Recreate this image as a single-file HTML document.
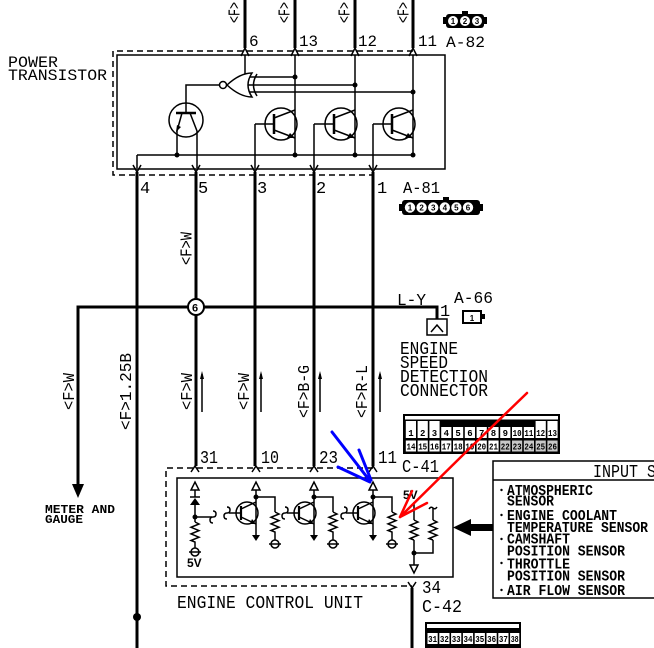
<!DOCTYPE html>
<html><head><meta charset="utf-8"><style>
html,body{margin:0;padding:0;background:#fff;}
svg{display:block;}
text{font-family:"Liberation Mono",monospace;fill:#000;}
.b{font-weight:bold;}
.s{font-family:"Liberation Sans",sans-serif;font-weight:bold;}
.cn{font-family:"Liberation Sans",sans-serif;font-weight:bold;font-size:8px;text-anchor:middle;}
</style></head><body>
<svg width="654" height="648" viewBox="0 0 654 648" xmlns="http://www.w3.org/2000/svg">
<rect width="654" height="648" fill="#fff"/>

<!-- ===== THICK WIRES ===== -->
<g fill="none" stroke="#000" stroke-width="3">
 <path d="M245,0V48 M295,0V48 M355,0V48 M413,0V48"/>
 <path d="M137,172V648 M196,172V466 M255,172V466 M314,172V466 M373,172V466"/>
 <path d="M78,486V307H437V326"/>
 <path d="M412,588V648"/>
</g>
<circle cx="137" cy="617" r="4" fill="#000"/>
<polygon points="72,484 84,484 78,498" fill="#000"/>
<circle cx="196" cy="307" r="8" fill="#fff" stroke="#000" stroke-width="2"/>
<text x="192" y="311.5" font-size="11" class="s" style="font-size:11px">6</text>

<!-- ===== POWER TRANSISTOR ===== -->
<g fill="none" stroke="#000" stroke-width="1.5">
 <path d="M413,51H113V175H374" stroke-dasharray="6,4"/>
 <rect x="117" y="55" width="328" height="114"/>
 <path d="M241,56L245,48L249,56 M291,56L295,48L299,56 M351,56L355,48L359,56 M409,56L413,48L417,56"/>
 <path d="M133,165L137,172L141,165 M192,165L196,172L200,165 M251,165L255,172L259,165 M310,165L314,172L318,165 M369,165L373,172L377,165"/>
 <path d="M245,55V75"/>
 <path d="M295,55V155 M355,55V155 M413,55V155"/>
 <path d="M250,77H295 M247,85H355 M250,92H413"/>
 <path d="M219.5,85H186V113"/>
 <path d="M137,155H413 M137,155V168"/>
 <circle cx="186" cy="120" r="17"/>
 <path d="M182,113L177,131V155 M190,113L197,131V168"/>
 <circle cx="281" cy="124" r="16"/>
 <circle cx="341" cy="124" r="16"/>
 <circle cx="399" cy="124" r="16"/>
 <path d="M255,124H274 M255,124V168 M314,124H334 M314,124V168 M373,124H392 M373,124V168"/>
 <path d="M274,118L295,110 M274,130L295,138 M334,118L355,110 M334,130L355,138 M392,118L413,110 M392,130L413,138"/>
 <path d="M252,73Q244,85 252,97Q240,97 227,85Q240,73 252,73Z" fill="#fff"/>
 <path d="M257,74Q250,85 257,96"/>
 <circle cx="223" cy="85" r="3.5" fill="#fff"/>
</g>
<g stroke="#000" stroke-width="2.5">
 <path d="M176,113H196 M274,114V134 M334,114V134 M392,114V134"/>
</g>
<g fill="#000">
 <polygon points="176,132 177,125 181,127"/>
 <polygon points="295,138 287,138 290,133"/>
 <polygon points="355,138 347,138 350,133"/>
 <polygon points="413,138 405,138 408,133"/>
 <circle cx="295" cy="77" r="2.5"/><circle cx="355" cy="85" r="2.5"/><circle cx="413" cy="92" r="2.5"/>
 <circle cx="177" cy="155" r="2.5"/><circle cx="295" cy="155" r="2.5"/><circle cx="355" cy="155" r="2.5"/><circle cx="413" cy="155" r="2.5"/>
</g>
<text x="8" y="67" font-size="16" textLength="50" lengthAdjust="spacingAndGlyphs">POWER</text>
<text x="8" y="80" font-size="16" textLength="99" lengthAdjust="spacingAndGlyphs">TRANSISTOR</text>
<text x="249" y="46" font-size="16">6</text>
<text x="299" y="46" font-size="16" textLength="19" lengthAdjust="spacingAndGlyphs">13</text>
<text x="358" y="46" font-size="16" textLength="19" lengthAdjust="spacingAndGlyphs">12</text>
<text x="418" y="46" font-size="16" textLength="19" lengthAdjust="spacingAndGlyphs">11</text>
<text x="446" y="47" font-size="16" textLength="39" lengthAdjust="spacingAndGlyphs">A-82</text>
<text x="140" y="193" font-size="17">4</text>
<text x="198" y="193" font-size="17">5</text>
<text x="257" y="193" font-size="17">3</text>
<text x="316" y="193" font-size="17">2</text>
<text x="377" y="193" font-size="17">1</text>
<text x="403" y="193" font-size="17" textLength="37" lengthAdjust="spacingAndGlyphs">A-81</text>

<!-- top <F> labels -->
<text transform="translate(239.5,23) rotate(-90)" font-size="17" textLength="21" lengthAdjust="spacingAndGlyphs">&lt;F&gt;</text>
<text transform="translate(289.5,23) rotate(-90)" font-size="17" textLength="21" lengthAdjust="spacingAndGlyphs">&lt;F&gt;</text>
<text transform="translate(349.5,23) rotate(-90)" font-size="17" textLength="21" lengthAdjust="spacingAndGlyphs">&lt;F&gt;</text>
<text transform="translate(408.5,23) rotate(-90)" font-size="17" textLength="21" lengthAdjust="spacingAndGlyphs">&lt;F&gt;</text>

<!-- A-82 icon -->
<rect x="443" y="17" width="44" height="7" fill="#000"/>
<rect x="446" y="14" width="38" height="14" rx="3" fill="#000"/>
<rect x="462" y="11" width="6" height="4" fill="#000"/>
<circle cx="453" cy="21" r="5" fill="#fff"/><circle cx="465" cy="21" r="5" fill="#fff"/><circle cx="477" cy="21" r="5" fill="#fff"/>
<text x="453" y="24" class="cn">1</text><text x="465" y="24" class="cn">2</text><text x="477" y="24" class="cn">3</text>

<!-- A-81 icon -->
<rect x="399" y="204" width="84" height="7" fill="#000"/>
<rect x="402" y="200" width="78" height="15" rx="3" fill="#000"/>
<rect x="443" y="197" width="6" height="4" fill="#000"/>
<circle cx="410" cy="207.5" r="5.2" fill="#fff"/><circle cx="421.6" cy="207.5" r="5.2" fill="#fff"/><circle cx="433.2" cy="207.5" r="5.2" fill="#fff"/><circle cx="444.8" cy="207.5" r="5.2" fill="#fff"/><circle cx="456.4" cy="207.5" r="5.2" fill="#fff"/><circle cx="468" cy="207.5" r="5.2" fill="#fff"/>
<text x="410" y="210.5" class="cn">1</text><text x="421.6" y="210.5" class="cn">2</text><text x="433.2" y="210.5" class="cn">3</text><text x="444.8" y="210.5" class="cn">4</text><text x="456.4" y="210.5" class="cn">5</text><text x="468" y="210.5" class="cn">6</text>

<!-- ===== MIDDLE ===== -->
<text transform="translate(191.5,265) rotate(-90)" font-size="17" textLength="33" lengthAdjust="spacingAndGlyphs">&lt;F&gt;W</text>
<text transform="translate(74,410) rotate(-90)" font-size="17" textLength="37" lengthAdjust="spacingAndGlyphs">&lt;F&gt;W</text>
<text transform="translate(131,430) rotate(-90)" font-size="17" textLength="77" lengthAdjust="spacingAndGlyphs">&lt;F&gt;1.25B</text>
<text transform="translate(192,410) rotate(-90)" font-size="17" textLength="37" lengthAdjust="spacingAndGlyphs">&lt;F&gt;W</text>
<text transform="translate(249,410) rotate(-90)" font-size="17" textLength="37" lengthAdjust="spacingAndGlyphs">&lt;F&gt;W</text>
<text transform="translate(309,418) rotate(-90)" font-size="17" textLength="53" lengthAdjust="spacingAndGlyphs">&lt;F&gt;B-G</text>
<text transform="translate(367,418) rotate(-90)" font-size="17" textLength="53" lengthAdjust="spacingAndGlyphs">&lt;F&gt;R-L</text>
<g stroke="#000" stroke-width="1.5">
 <path d="M202,412V374 M261,412V374 M320,412V374 M380,412V374"/>
</g>
<g fill="#000">
 <polygon points="200,379 204,379 202,371"/><polygon points="259,379 263,379 261,371"/>
 <polygon points="318,379 322,379 320,371"/><polygon points="378,379 382,379 380,371"/>
</g>

<!-- A-66 / engine speed connector -->
<rect x="427" y="319" width="20" height="16" fill="#fff" stroke="#000" stroke-width="1.5"/>
<path d="M431,332L437,325L443,332" fill="none" stroke="#000" stroke-width="1.5"/>
<text x="397" y="305" font-size="17" textLength="29" lengthAdjust="spacingAndGlyphs">L-Y</text>
<text x="440" y="316" font-size="17">1</text>
<text x="454" y="303" font-size="17" textLength="39" lengthAdjust="spacingAndGlyphs">A-66</text>
<rect x="463" y="311" width="18" height="12" fill="#fff" stroke="#000" stroke-width="2"/>
<rect x="481" y="314" width="4" height="5" fill="#000"/>
<text x="472" y="321" class="cn">1</text>
<text x="400" y="354" font-size="18" textLength="58" lengthAdjust="spacingAndGlyphs">ENGINE</text>
<text x="400" y="368" font-size="18" textLength="48" lengthAdjust="spacingAndGlyphs">SPEED</text>
<text x="400" y="382" font-size="18" textLength="88" lengthAdjust="spacingAndGlyphs">DETECTION</text>
<text x="400" y="396" font-size="18" textLength="88" lengthAdjust="spacingAndGlyphs">CONNECTOR</text>

<text x="45" y="513" font-size="12" class="b" textLength="70" lengthAdjust="spacingAndGlyphs">METER AND</text>
<text x="45" y="523" font-size="12" class="b" textLength="38" lengthAdjust="spacingAndGlyphs">GAUGE</text>

<!-- C-41 connector -->
<rect x="403" y="414" width="157" height="40" fill="#000"/>
<rect x="405" y="416" width="153" height="3.5" fill="#fff"/>
<g fill="#fff">
 <rect x="405.8" y="421" width="10.2" height="17"/><rect x="417.6" y="421" width="10.2" height="17"/><rect x="429.4" y="421" width="10.2" height="17"/>
 <rect x="441.2" y="427" width="10.2" height="11"/><rect x="453" y="427" width="10.2" height="11"/><rect x="464.8" y="427" width="10.2" height="11"/><rect x="476.6" y="427" width="10.2" height="11"/><rect x="488.4" y="427" width="10.2" height="11"/><rect x="500.2" y="427" width="10.2" height="11"/><rect x="512" y="427" width="10.2" height="11"/><rect x="523.8" y="427" width="10.2" height="11"/>
 <rect x="535.6" y="421" width="10.2" height="17"/><rect x="547.4" y="421" width="10.2" height="17"/>
 <rect x="405.8" y="440.5" width="10.2" height="11"/><rect x="417.6" y="440.5" width="10.2" height="11"/><rect x="429.4" y="440.5" width="10.2" height="11"/><rect x="441.2" y="440.5" width="10.2" height="11"/><rect x="453" y="440.5" width="10.2" height="11"/><rect x="464.8" y="440.5" width="10.2" height="11"/><rect x="476.6" y="440.5" width="10.2" height="11"/><rect x="488.4" y="440.5" width="10.2" height="11"/>
</g>
<g fill="#c8c8c8">
 <rect x="500.2" y="440.5" width="10.2" height="11"/><rect x="512" y="440.5" width="10.2" height="11"/><rect x="523.8" y="440.5" width="10.2" height="11"/><rect x="535.6" y="440.5" width="10.2" height="11"/><rect x="547.4" y="440.5" width="10.2" height="11"/>
</g>
<g class="cn" style="font-size:9px">
 <text x="411" y="436">1</text><text x="422.7" y="436">2</text><text x="434.5" y="436">3</text><text x="446.3" y="436">4</text><text x="458.1" y="436">5</text><text x="469.9" y="436">6</text><text x="481.7" y="436">7</text><text x="493.5" y="436">8</text><text x="505.3" y="436">9</text>
 <text x="517.1" y="436" textLength="9" lengthAdjust="spacingAndGlyphs">10</text><text x="528.9" y="436" textLength="9" lengthAdjust="spacingAndGlyphs">11</text><text x="540.7" y="436" textLength="9" lengthAdjust="spacingAndGlyphs">12</text><text x="552.5" y="436" textLength="9" lengthAdjust="spacingAndGlyphs">13</text>
 <text x="411" y="449.5" textLength="9" lengthAdjust="spacingAndGlyphs">14</text><text x="422.7" y="449.5" textLength="9" lengthAdjust="spacingAndGlyphs">15</text><text x="434.5" y="449.5" textLength="9" lengthAdjust="spacingAndGlyphs">16</text><text x="446.3" y="449.5" textLength="9" lengthAdjust="spacingAndGlyphs">17</text><text x="458.1" y="449.5" textLength="9" lengthAdjust="spacingAndGlyphs">18</text><text x="469.9" y="449.5" textLength="9" lengthAdjust="spacingAndGlyphs">19</text><text x="481.7" y="449.5" textLength="9" lengthAdjust="spacingAndGlyphs">20</text><text x="493.5" y="449.5" textLength="9" lengthAdjust="spacingAndGlyphs">21</text><text x="505.3" y="449.5" textLength="9" lengthAdjust="spacingAndGlyphs">22</text><text x="517.1" y="449.5" textLength="9" lengthAdjust="spacingAndGlyphs">23</text><text x="528.9" y="449.5" textLength="9" lengthAdjust="spacingAndGlyphs">24</text><text x="540.7" y="449.5" textLength="9" lengthAdjust="spacingAndGlyphs">25</text><text x="552.5" y="449.5" textLength="9" lengthAdjust="spacingAndGlyphs">26</text>
</g>
<text x="402" y="472" font-size="18" textLength="37" lengthAdjust="spacingAndGlyphs">C-41</text>

<!-- ===== ECU ===== -->
<g fill="none" stroke="#000" stroke-width="1.5">
 <path d="M373,468H166V586H412" stroke-dasharray="6,4"/>
 <rect x="177" y="478" width="276" height="99"/>
 <path d="M191,472L195,466L199,472 M252,472L256,466L260,472 M310,472L314,466L318,472 M369,472L373,466L377,472"/>
 <path d="M408,582L412,588L416,582"/>
 <path d="M191,490L199,490L195,482Z M252,490L260,490L256,482Z M310,490L318,490L314,482Z M369,490L377,490L373,482Z"/>
 <path d="M195,490V497 M190,497H200 M195,505V522 M195,517H212"/>
 <path d="M195,522l4,2l-8,3.3l8,3.3l-8,3.3l8,3.3l-8,3.3l4,1.5V548"/>
 <circle cx="195" cy="552" r="4"/><path d="M189,552H201"/>
 <path d="M213,511q3,0 3,3q0,3 -3,3q-3,0 -3,3q0,3 3,3"/>
 <circle cx="247" cy="513" r="11"/>
 <path d="M256,490V536 M256,497H275V512 M229,513H241 M241,509L256,502 M241,517L256,524"/>
 <path d="M275,512l4,2l-8,3.3l8,3.3l-8,3.3l8,3.3l-8,3.3l4,1.5V540"/>
 <circle cx="275" cy="544" r="4"/><path d="M269,544H281"/>
 <path d="M227,507q3,0 3,3q0,3 -3,3q-3,0 -3,3q0,3 3,3"/>
 <circle cx="305" cy="513" r="11"/>
 <path d="M314,490V536 M314,497H333V512 M287,513H299 M299,509L314,502 M299,517L314,524"/>
 <path d="M333,512l4,2l-8,3.3l8,3.3l-8,3.3l8,3.3l-8,3.3l4,1.5V540"/>
 <circle cx="333" cy="544" r="4"/><path d="M327,544H339"/>
 <path d="M285,507q3,0 3,3q0,3 -3,3q-3,0 -3,3q0,3 3,3"/>
 <circle cx="364" cy="513" r="11"/>
 <path d="M373,490V536 M373,497H392V512 M346,513H358 M358,509L373,502 M358,517L373,524"/>
 <path d="M392,512l4,2l-8,3.3l8,3.3l-8,3.3l8,3.3l-8,3.3l4,1.5V540"/>
 <circle cx="392" cy="544" r="4"/><path d="M386,544H398"/>
 <path d="M344,507q3,0 3,3q0,3 -3,3q-3,0 -3,3q0,3 3,3"/>
 <path d="M414,502V520 M414,540V565 M414,553H433V540 M433,512V520"/>
 <path d="M414,520l4,2l-8,3.3l8,3.3l-8,3.3l8,3.3l-8,3.3l4,1.5"/>
 <path d="M433,520l4,2l-8,3.3l8,3.3l-8,3.3l8,3.3l-8,3.3l4,1.5"/>
 <path d="M429,509q2,-3 4,-1q2,2 4,-1"/>
 <path d="M433,508V512"/>
 <path d="M410,565H418L414,573Z"/>
</g>
<g stroke="#000" stroke-width="2.2">
 <path d="M241,506V520 M299,506V520 M358,506V520"/>
</g>
<g fill="#000">
 <polygon points="190,505 200,505 195,498"/>
 <circle cx="195" cy="517" r="2.5"/>
 <circle cx="256" cy="497" r="2.5"/><circle cx="314" cy="497" r="2.5"/><circle cx="373" cy="497" r="2.5"/>
 <circle cx="414" cy="553" r="2.5"/>
 <polygon points="252,535 260,535 256,541"/><polygon points="310,535 318,535 314,541"/><polygon points="369,535 377,535 373,541"/>
 <polygon points="256,524 250,524 252,519"/><polygon points="314,524 308,524 310,519"/><polygon points="373,524 367,524 369,519"/>
</g>
<text x="187" y="567" font-size="12" class="s" style="font-size:12px">5V</text>
<text x="403" y="499" font-size="12" class="s" style="font-size:12px">5V</text>
<text x="200" y="463" font-size="18" textLength="18" lengthAdjust="spacingAndGlyphs">31</text>
<text x="261" y="463" font-size="18" textLength="18" lengthAdjust="spacingAndGlyphs">10</text>
<text x="319" y="463" font-size="18" textLength="19" lengthAdjust="spacingAndGlyphs">23</text>
<text x="378" y="463" font-size="18" textLength="19" lengthAdjust="spacingAndGlyphs">11</text>
<text x="177" y="608" font-size="18" textLength="186" lengthAdjust="spacingAndGlyphs">ENGINE CONTROL UNIT</text>
<text x="422" y="593" font-size="18" textLength="19" lengthAdjust="spacingAndGlyphs">34</text>
<text x="422" y="612" font-size="18" textLength="40" lengthAdjust="spacingAndGlyphs">C-42</text>

<!-- C-42 connector -->
<rect x="425" y="622" width="96" height="30" fill="#000"/>
<rect x="427" y="624" width="92" height="4" fill="#fff"/>
<g fill="#fff">
 <rect x="427.5" y="633" width="10.2" height="11"/><rect x="439.3" y="633" width="10.2" height="11"/><rect x="451.1" y="633" width="10.2" height="11"/><rect x="462.9" y="633" width="10.2" height="11"/><rect x="474.7" y="633" width="10.2" height="11"/><rect x="486.5" y="633" width="10.2" height="11"/><rect x="498.3" y="633" width="10.2" height="11"/><rect x="510.1" y="633" width="9.2" height="11"/>
</g>
<g class="cn" style="font-size:9px">
 <text x="432.6" y="642" textLength="9" lengthAdjust="spacingAndGlyphs">31</text><text x="444.4" y="642" textLength="9" lengthAdjust="spacingAndGlyphs">32</text><text x="456.2" y="642" textLength="9" lengthAdjust="spacingAndGlyphs">33</text><text x="468" y="642" textLength="9" lengthAdjust="spacingAndGlyphs">34</text><text x="479.8" y="642" textLength="9" lengthAdjust="spacingAndGlyphs">35</text><text x="491.6" y="642" textLength="9" lengthAdjust="spacingAndGlyphs">36</text><text x="503.4" y="642" textLength="9" lengthAdjust="spacingAndGlyphs">37</text><text x="514.7" y="642" textLength="8" lengthAdjust="spacingAndGlyphs">38</text>
</g>

<!-- ===== INPUT SENSOR box ===== -->
<path d="M660,461H493V598H660 M493,480H660" fill="none" stroke="#000" stroke-width="1.5"/>
<text x="593" y="477" font-size="18" textLength="108" lengthAdjust="spacingAndGlyphs">INPUT SENSOR</text>
<g fill="#000">
 <circle cx="501.5" cy="490" r="1.2"/><circle cx="501.5" cy="515" r="1.2"/><circle cx="501.5" cy="539" r="1.2"/><circle cx="501.5" cy="563" r="1.2"/><circle cx="501.5" cy="590" r="1.2"/>
 <rect x="468" y="524" width="25" height="7"/>
 <polygon points="453,527.5 471,519 471,536"/>
</g>
<g font-size="15" class="b">
 <text x="507" y="495" textLength="86" lengthAdjust="spacingAndGlyphs">ATMOSPHERIC</text>
 <text x="507" y="505.5" textLength="47" lengthAdjust="spacingAndGlyphs">SENSOR</text>
 <text x="507" y="520" textLength="110" lengthAdjust="spacingAndGlyphs">ENGINE COOLANT</text>
 <text x="507" y="532" textLength="141" lengthAdjust="spacingAndGlyphs">TEMPERATURE SENSOR</text>
 <text x="507" y="543.5" textLength="63" lengthAdjust="spacingAndGlyphs">CAMSHAFT</text>
 <text x="507" y="555.5" textLength="118" lengthAdjust="spacingAndGlyphs">POSITION SENSOR</text>
 <text x="507" y="568.5" textLength="63" lengthAdjust="spacingAndGlyphs">THROTTLE</text>
 <text x="507" y="580.5" textLength="118" lengthAdjust="spacingAndGlyphs">POSITION SENSOR</text>
 <text x="507" y="595" textLength="118" lengthAdjust="spacingAndGlyphs">AIR FLOW SENSOR</text>
</g>

<!-- ===== annotation arrows ===== -->
<g fill="none" stroke="#0000ff" stroke-width="3" stroke-linecap="round">
 <path d="M332,432L370,481 M359,450L371,480 M338,467L370,482"/>
</g>
<g fill="none" stroke="#ff0000" stroke-width="2.5" stroke-linecap="round" stroke-linejoin="round">
 <path d="M527,393L470,448L400,517"/>
 <path d="M412,491L400,517L427,503"/>
</g>
</svg>
</body></html>
